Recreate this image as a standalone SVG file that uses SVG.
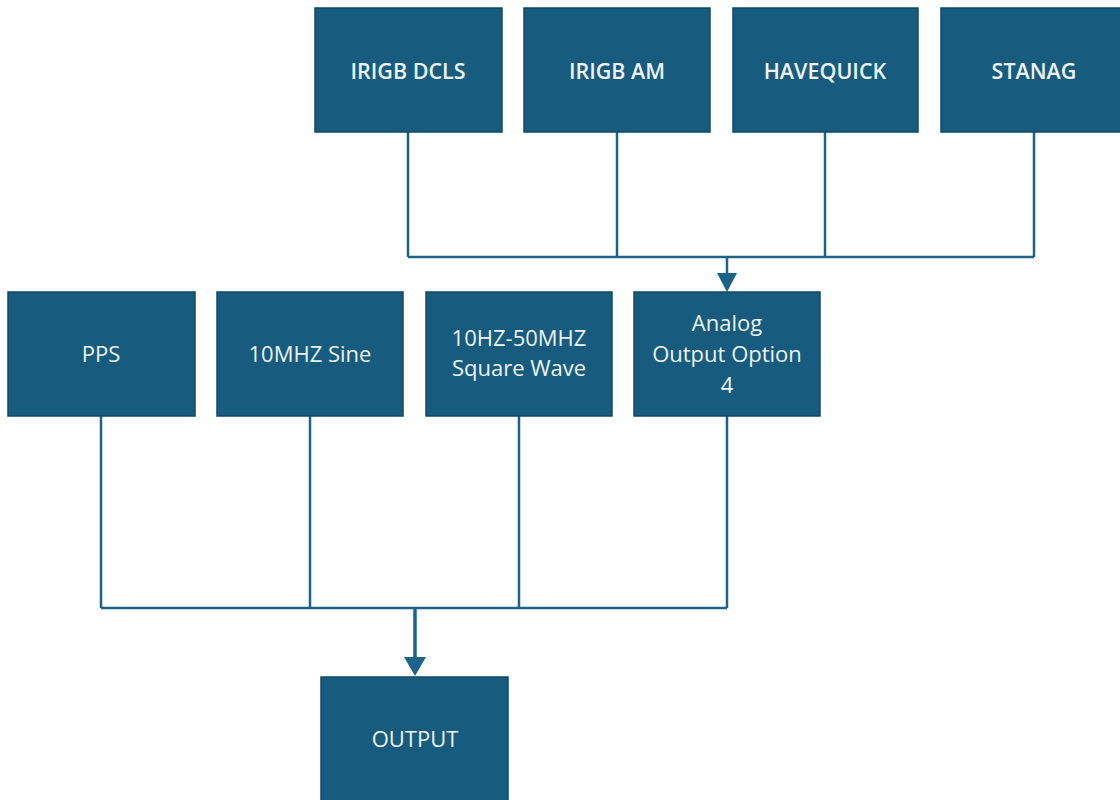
<svg xmlns="http://www.w3.org/2000/svg" width="1120" height="800" viewBox="0 0 1120 800">
<defs>
<style>
.box{fill:#175c7e;stroke:#0e4a68;stroke-width:1.5}
.lbl{fill:#eef3f7;font-family:"Open Sans","Noto Sans",sans-serif;font-size:22px;text-anchor:middle;dominant-baseline:central}
.b{font-weight:600;font-size:21.5px}
.ln{fill:none;stroke:#1d6389;stroke-width:2.5}
.ln2{fill:none;stroke:#1d6389;stroke-width:3.5}
.ah{fill:#1d6389}
</style>
</defs>
<rect width="1120" height="800" fill="#ffffff"/>
<g id="connectors">
<path class="ln" d="M408,132 V257 M617,132 V257 M825,132 V257 M1034,132 V257 M408,257 H1034 M727,257 V275"/>
<polygon class="ah" points="717,273 737,273 727,292"/>
<path class="ln" d="M101,416 V608 M310,416 V608 M519,416 V608 M727,416 V608 M101,608 H727"/>
<path class="ln2" d="M415,608 V659"/>
<polygon class="ah" points="404,657 426,657 415,676"/>
</g>
<g id="irigb-dcls"><rect class="box" x="315" y="8" width="187" height="124"/><text class="lbl b" x="408" y="70">IRIGB DCLS</text></g>
<g id="irigb-am"><rect class="box" x="524" y="8" width="186" height="124"/><text class="lbl b" x="617" y="70">IRIGB AM</text></g>
<g id="havequick"><rect class="box" x="733" y="8" width="185" height="124"/><text class="lbl b" x="825" y="70">HAVEQUICK</text></g>
<g id="stanag"><rect class="box" x="941" y="8" width="185" height="124"/><text class="lbl b" x="1034" y="70">STANAG</text></g>
<g id="pps"><rect class="box" x="8" y="292" width="187" height="124"/><text class="lbl" x="101" y="353">PPS</text></g>
<g id="sine"><rect class="box" x="217" y="292" width="186" height="124"/><text class="lbl" x="310" y="353">10MHZ Sine</text></g>
<g id="square"><rect class="box" x="426" y="292" width="186" height="124"/><text class="lbl" x="519" y="337">10HZ-50MHZ</text><text class="lbl" x="519" y="367">Square Wave</text></g>
<g id="analog"><rect class="box" x="634" y="292" width="186" height="124"/><text class="lbl" x="727" y="322">Analog</text><text class="lbl" x="727" y="353">Output Option</text><text class="lbl" x="727" y="384">4</text></g>
<g id="output"><rect class="box" x="321" y="677" width="187" height="130"/><text class="lbl" x="415" y="738">OUTPUT</text></g>
</svg>
